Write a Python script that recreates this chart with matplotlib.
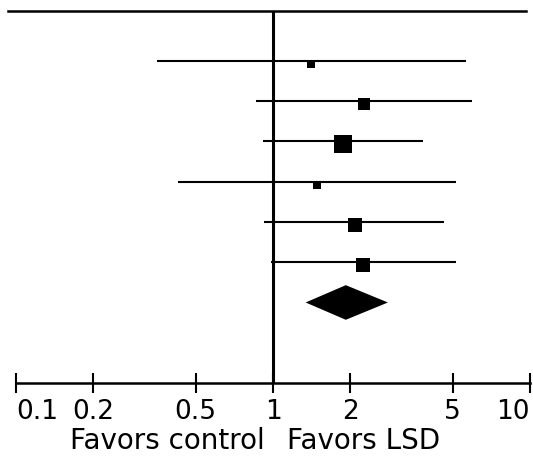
import numpy as np
import matplotlib
matplotlib.use("Agg")
import matplotlib.pyplot as plt
from matplotlib.transforms import offset_copy

# odds ratios (log scale)
odds_ratio = [1.41, 2.26, 1.87, 1.48, 2.08, 2.24]
ci_low = [0.354, 0.859, 0.914, 0.427, 0.923, 0.98]
ci_high = [5.64, 5.95, 3.83, 5.15, 4.63, 5.15]
weights = [6.9, 15.4, 30.9, 7.7, 21.0, 18.1]   # % weight -> square area
pooled = [1.34, 1.92, 2.80]                    # low, estimate, high
tick_vals = [0.1, 0.2, 0.5, 1, 2, 5, 10]
tick_labels = ["0.1", "0.2", "0.5", "1", "2", "5", "10"]

fig = plt.figure(figsize=(5.33, 4.58), dpi=100)
ax = fig.add_axes([16/533, 75/458, 514/533, 372/458])

# squares sit a few pixels below their CI line in the original
sq_trans = offset_copy(ax.transData, fig=fig, y=-3, units="dots")

rows = np.arange(1, len(odds_ratio) + 1)
for r, lo, hi, est, w in zip(rows, ci_low, ci_high, odds_ratio, weights):
    ax.plot([lo, hi], [r, r], color="black", lw=1.5, solid_capstyle="butt")
    ax.plot(est, r, marker="s", color="black", ms=3.06*np.sqrt(w)*0.72, mew=0,
            transform=sq_trans)

# pooled estimate diamond
d_row = len(odds_ratio) + 1
ax.fill([pooled[0], pooled[1], pooled[2], pooled[1]],
        [d_row, d_row - 0.43, d_row, d_row + 0.43], color="black", lw=0)

ax.set_xscale("log")
ax.set_xlim(0.1, 10)
ax.set_ylim(9, -0.24)

# reference line at OR = 1 and header line
ax.axvline(1, color="black", lw=2.2)
ax.axhline(-0.24, xmin=-0.015, xmax=0.992, color="black", lw=1.8, clip_on=False)

for s in ["left", "right", "top"]:
    ax.spines[s].set_visible(False)
ax.spines["bottom"].set_linewidth(1.8)
ax.set_yticks([])
ax.minorticks_off()
ax.set_xticks(tick_vals)
ax.set_xticklabels(tick_labels)
ax.tick_params(axis="x", direction="inout", length=14.4, width=1.5,
               labelsize=19, pad=4.5)
ax.get_xticklabels()[0].set_ha("left")
ax.get_xticklabels()[-1].set_ha("right")

fig.text(265/533, 1 - 449/458, "Favors control", ha="right", va="baseline", fontsize=20)
fig.text(287/533, 1 - 449/458, "Favors LSD", ha="left", va="baseline", fontsize=20)

fig.savefig("out.png", dpi=100)
